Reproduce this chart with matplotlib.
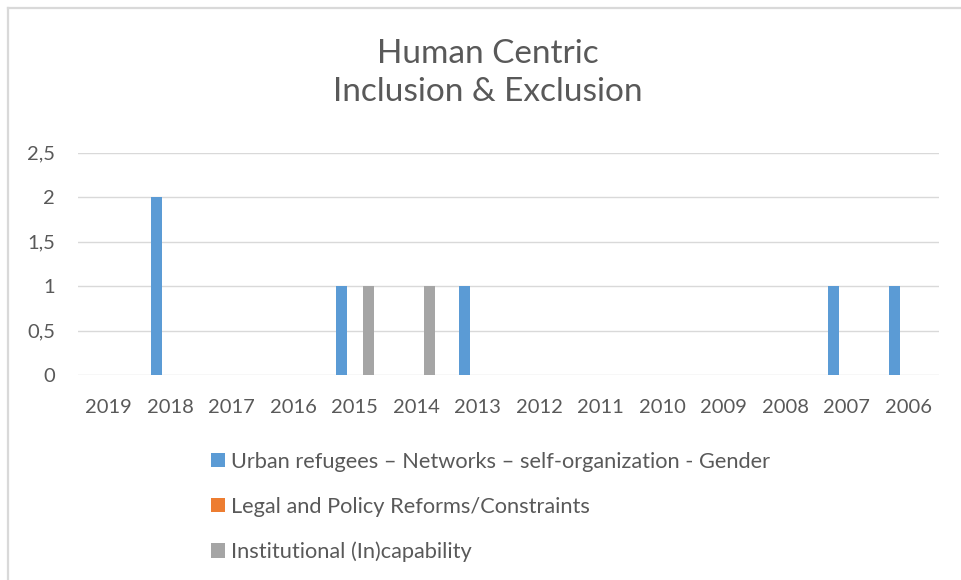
import matplotlib
matplotlib.use("Agg")
import matplotlib.pyplot as plt
from matplotlib.lines import Line2D
import numpy as np

# Categories (years, newest first) and series values
years = ["2019", "2018", "2017", "2016", "2015", "2014", "2013",
         "2012", "2011", "2010", "2009", "2008", "2007", "2006"]
urban_refugees = [0, 2, 0, 0, 1, 0, 1, 0, 0, 0, 0, 0, 1, 1]
legal_policy = [0, 0, 0, 0, 0, 0, 0, 0, 0, 0, 0, 0, 0, 0]
institutional = [0, 0, 0, 0, 1, 1, 0, 0, 0, 0, 0, 0, 0, 0]

series_names = [
    "Urban refugees \u2013 Networks \u2013 self-organization - Gender",
    "Legal and Policy Reforms/Constraints",
    "Institutional (In)capability",
]
y_ticks = [0, 0.5, 1, 1.5, 2, 2.5]
y_tick_labels = ["0", "0,5", "1", "1,5", "2", "2,5"]

colors = ["#5B9BD5", "#ED7D31", "#A5A5A5"]
text_color = "#595959"
grid_color = "#D9D9D9"

plt.rcParams["font.family"] = ["Lato", "DejaVu Sans"]

W, H = 961, 580
fig = plt.figure(figsize=(W / 100, H / 100), dpi=100)
fig.patch.set_facecolor("white")

ax = fig.add_axes([78 / W, 1 - 375 / H, (939 - 78) / W, (375 - 152.5) / H])

x = np.arange(len(years))
offsets = [-0.22, 0.0, 0.22]
bar_w = 0.175
handles = []
for vals, off, col, name in zip([urban_refugees, legal_policy, institutional],
                                offsets, colors, series_names):
    b = ax.bar(x + off, vals, width=bar_w, color=col, label=name, zorder=3)
    handles.append(b)

ax.set_xlim(-0.5, len(years) - 0.5)
ax.set_ylim(0, 2.5)
ax.set_yticks(y_ticks)
ax.set_yticklabels(y_tick_labels)
ax.set_xticks(x)
ax.set_xticklabels(years)
ax.tick_params(axis="both", length=0, labelsize=14.5, colors=text_color)
ax.tick_params(axis="x", pad=17)
ax.tick_params(axis="y", pad=16.5)

ax.yaxis.grid(True, color=grid_color, linewidth=1.0, zorder=0)
ax.set_axisbelow(True)
for s in ax.spines.values():
    s.set_visible(False)

# Two-line title
fig.text(488 / W, 1 - 63.3 / H, "Human Centric", ha="center", va="baseline",
         fontsize=24, color=text_color)
fig.text(488 / W, 1 - 100.7 / H, "Inclusion & Exclusion", ha="center",
         va="baseline", fontsize=24, color=text_color)

# Legend below the plot
leg = fig.legend(handles=handles, labels=series_names, loc="upper left",
                 bbox_to_anchor=(211 / W, 1 - 451.5 / H), frameon=False,
                 ncol=1, fontsize=15.7, labelcolor=text_color,
                 handlelength=0.64, handleheight=0.64, handletextpad=0.3,
                 labelspacing=1.15, borderpad=0, borderaxespad=0)

# Chart border (top and left edges)
fig.add_artist(Line2D([7.5 / W, 1.0], [1 - 8 / H, 1 - 8 / H], color=grid_color,
                      linewidth=1.6, transform=fig.transFigure))
fig.add_artist(Line2D([7.5 / W, 7.5 / W], [0, 1 - 8 / H], color=grid_color,
                      linewidth=1.6, transform=fig.transFigure))

fig.savefig("out.png", dpi=100, facecolor="white")
